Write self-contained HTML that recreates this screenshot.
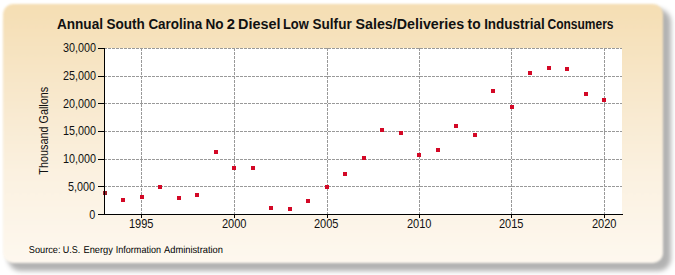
<!DOCTYPE html>
<html><head><meta charset="utf-8"><style>
html,body{margin:0;padding:0;width:675px;height:275px;overflow:hidden;background:#fff;}
.shd{position:absolute;left:8px;top:9px;width:663px;height:261.5px;border-radius:13px;background:rgba(0,0,0,0.30);filter:blur(2.5px);}
.box{position:absolute;left:3px;top:4px;width:660px;height:258.5px;border-radius:10px;
background:linear-gradient(to bottom,#f5deb3 0%,#f8e8cc 35%,#fbf1e0 65%,#fef8ef 100%);filter:blur(1px);}
svg{position:absolute;left:0;top:0;}
text{font-family:"Liberation Sans",sans-serif;fill:#111;}
.tk{font-size:12.3px;}
.title{font-size:14px;font-weight:bold;}
.src{font-size:10px;fill:#000;}
.yt{font-size:12px;}
</style></head><body>
<div class="shd"></div><div class="box"></div>
<svg width="675" height="275" viewBox="0 0 675 275" shape-rendering="crispEdges">
<text x="56.94" y="29" class="title" textLength="46.09" lengthAdjust="spacingAndGlyphs">Annual</text>
<text x="106.54" y="29" class="title" textLength="38.34" lengthAdjust="spacingAndGlyphs">South</text>
<text x="148.4" y="29" class="title" textLength="53.8" lengthAdjust="spacingAndGlyphs">Carolina</text>
<text x="205.53" y="29" class="title" textLength="18.1" lengthAdjust="spacingAndGlyphs">No</text>
<text x="226.77" y="29" class="title" textLength="8.2" lengthAdjust="spacingAndGlyphs">2</text>
<text x="238.07" y="29" class="title" textLength="42.46" lengthAdjust="spacingAndGlyphs">Diesel</text>
<text x="282.98" y="29" class="title" textLength="25.82" lengthAdjust="spacingAndGlyphs">Low</text>
<text x="312.54" y="29" class="title" textLength="39.16" lengthAdjust="spacingAndGlyphs">Sulfur</text>
<text x="355.52" y="29" class="title" textLength="108.63" lengthAdjust="spacingAndGlyphs">Sales/Deliveries</text>
<text x="467.58" y="29" class="title" textLength="13.01" lengthAdjust="spacingAndGlyphs">to</text>
<text x="484.14" y="29" class="title" textLength="60.54" lengthAdjust="spacingAndGlyphs">Industrial</text>
<text x="547.46" y="29" class="title" textLength="66.09" lengthAdjust="spacingAndGlyphs">Consumers</text>
<rect x="104" y="48" width="518" height="166" fill="#fff"/>
<line x1="104" y1="186.5" x2="622" y2="186.5" stroke="#999" stroke-width="1" stroke-dasharray="3,1"/>
<line x1="104" y1="159.5" x2="622" y2="159.5" stroke="#999" stroke-width="1" stroke-dasharray="3,1"/>
<line x1="104" y1="131.5" x2="622" y2="131.5" stroke="#999" stroke-width="1" stroke-dasharray="3,1"/>
<line x1="104" y1="103.5" x2="622" y2="103.5" stroke="#999" stroke-width="1" stroke-dasharray="3,1"/>
<line x1="104" y1="76.5" x2="622" y2="76.5" stroke="#999" stroke-width="1" stroke-dasharray="3,1"/>
<line x1="104" y1="48.5" x2="622" y2="48.5" stroke="#999" stroke-width="1" stroke-dasharray="3,1"/>
<line x1="141.5" y1="48" x2="141.5" y2="214" stroke="#999" stroke-width="1" stroke-dasharray="3,1"/>
<line x1="234.5" y1="48" x2="234.5" y2="214" stroke="#999" stroke-width="1" stroke-dasharray="3,1"/>
<line x1="327.5" y1="48" x2="327.5" y2="214" stroke="#999" stroke-width="1" stroke-dasharray="3,1"/>
<line x1="419.5" y1="48" x2="419.5" y2="214" stroke="#999" stroke-width="1" stroke-dasharray="3,1"/>
<line x1="511.5" y1="48" x2="511.5" y2="214" stroke="#999" stroke-width="1" stroke-dasharray="3,1"/>
<line x1="604.5" y1="48" x2="604.5" y2="214" stroke="#999" stroke-width="1" stroke-dasharray="3,1"/>
<rect x="103" y="191" width="4" height="4" fill="#9a1c26"/>
<line x1="104.5" y1="48" x2="104.5" y2="215" stroke="#000" stroke-width="1"/>
<line x1="104" y1="214.5" x2="623" y2="214.5" stroke="#000" stroke-width="1"/>
<line x1="98" y1="214.5" x2="104" y2="214.5" stroke="#000" stroke-width="1"/>
<text transform="translate(95.4,219) scale(0.88,1)" text-anchor="end" class="tk">0</text>
<line x1="98" y1="186.5" x2="104" y2="186.5" stroke="#000" stroke-width="1"/>
<text transform="translate(95.0,191) scale(0.88,1)" text-anchor="end" class="tk">5,000</text>
<line x1="98" y1="159.5" x2="104" y2="159.5" stroke="#000" stroke-width="1"/>
<text transform="translate(96.0,163) scale(0.88,1)" text-anchor="end" class="tk">10,000</text>
<line x1="98" y1="131.5" x2="104" y2="131.5" stroke="#000" stroke-width="1"/>
<text transform="translate(96.0,135) scale(0.88,1)" text-anchor="end" class="tk">15,000</text>
<line x1="98" y1="103.5" x2="104" y2="103.5" stroke="#000" stroke-width="1"/>
<text transform="translate(96.0,108) scale(0.88,1)" text-anchor="end" class="tk">20,000</text>
<line x1="98" y1="76.5" x2="104" y2="76.5" stroke="#000" stroke-width="1"/>
<text transform="translate(96.0,80) scale(0.88,1)" text-anchor="end" class="tk">25,000</text>
<line x1="98" y1="48.5" x2="104" y2="48.5" stroke="#000" stroke-width="1"/>
<text transform="translate(96.0,52) scale(0.88,1)" text-anchor="end" class="tk">30,000</text>
<line x1="141.5" y1="214" x2="141.5" y2="218" stroke="#000" stroke-width="1"/>
<text transform="translate(141.2,228) scale(0.9,1)" text-anchor="middle" class="tk">1995</text>
<line x1="234.5" y1="214" x2="234.5" y2="218" stroke="#000" stroke-width="1"/>
<text transform="translate(234.2,228) scale(0.9,1)" text-anchor="middle" class="tk">2000</text>
<line x1="327.5" y1="214" x2="327.5" y2="218" stroke="#000" stroke-width="1"/>
<text transform="translate(326.2,228) scale(0.9,1)" text-anchor="middle" class="tk">2005</text>
<line x1="419.5" y1="214" x2="419.5" y2="218" stroke="#000" stroke-width="1"/>
<text transform="translate(419.2,228) scale(0.9,1)" text-anchor="middle" class="tk">2010</text>
<line x1="511.5" y1="214" x2="511.5" y2="218" stroke="#000" stroke-width="1"/>
<text transform="translate(511.2,228) scale(0.9,1)" text-anchor="middle" class="tk">2015</text>
<line x1="604.5" y1="214" x2="604.5" y2="218" stroke="#000" stroke-width="1"/>
<text transform="translate(604.2,228) scale(0.9,1)" text-anchor="middle" class="tk">2020</text>
<rect x="121" y="198" width="4" height="4" fill="#d30826"/>
<rect x="140" y="195" width="4" height="4" fill="#d30826"/>
<rect x="158" y="185" width="4" height="4" fill="#d30826"/>
<rect x="177" y="196" width="4" height="4" fill="#d30826"/>
<rect x="195" y="193" width="4" height="4" fill="#d30826"/>
<rect x="214" y="150" width="4" height="4" fill="#d30826"/>
<rect x="232" y="166" width="4" height="4" fill="#d30826"/>
<rect x="251" y="166" width="4" height="4" fill="#d30826"/>
<rect x="269" y="206" width="4" height="4" fill="#d30826"/>
<rect x="288" y="207" width="4" height="4" fill="#d30826"/>
<rect x="306" y="199" width="4" height="4" fill="#d30826"/>
<rect x="325" y="185" width="4" height="4" fill="#d30826"/>
<rect x="343" y="172" width="4" height="4" fill="#d30826"/>
<rect x="362" y="156" width="4" height="4" fill="#d30826"/>
<rect x="380" y="128" width="4" height="4" fill="#d30826"/>
<rect x="399" y="131" width="4" height="4" fill="#d30826"/>
<rect x="417" y="153" width="4" height="4" fill="#d30826"/>
<rect x="436" y="148" width="4" height="4" fill="#d30826"/>
<rect x="454" y="124" width="4" height="4" fill="#d30826"/>
<rect x="473" y="133" width="4" height="4" fill="#d30826"/>
<rect x="491" y="89" width="4" height="4" fill="#d30826"/>
<rect x="510" y="105" width="4" height="4" fill="#d30826"/>
<rect x="528" y="71" width="4" height="4" fill="#d30826"/>
<rect x="547" y="66" width="4" height="4" fill="#d30826"/>
<rect x="565" y="67" width="4" height="4" fill="#d30826"/>
<rect x="584" y="92" width="4" height="4" fill="#d30826"/>
<rect x="602" y="98" width="4" height="4" fill="#d30826"/>
<text transform="translate(47.8,130.75) rotate(-90) scale(0.904,1)" text-anchor="middle" class="yt">Thousand Gallons</text>
<text x="28.84" y="253" class="src" text-rendering="geometricPrecision" textLength="31.65" lengthAdjust="spacingAndGlyphs">Source:</text>
<text x="62.82" y="253" class="src" text-rendering="geometricPrecision" textLength="17.54" lengthAdjust="spacingAndGlyphs">U.S.</text>
<text x="83.49" y="253" class="src" text-rendering="geometricPrecision" textLength="29.37" lengthAdjust="spacingAndGlyphs">Energy</text>
<text x="115.81" y="253" class="src" text-rendering="geometricPrecision" textLength="45.18" lengthAdjust="spacingAndGlyphs">Information</text>
<text x="164.0" y="253" class="src" text-rendering="geometricPrecision" textLength="58.97" lengthAdjust="spacingAndGlyphs">Administration</text>
</svg>
</body></html>
